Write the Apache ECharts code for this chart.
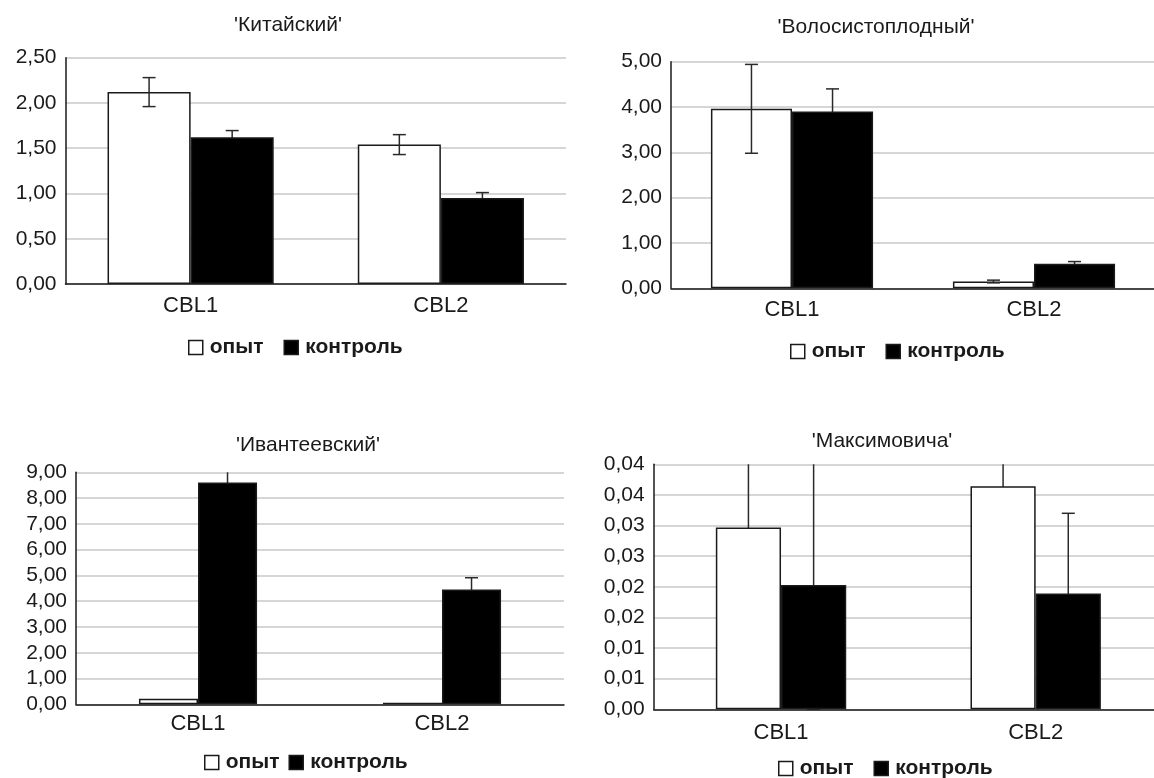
<!DOCTYPE html>
<html><head><meta charset="utf-8">
<script src="https://cdn.jsdelivr.net/npm/echarts@6/dist/echarts.min.js"></script>
<style>html,body{margin:0;padding:0;background:#fff}#c{width:1154px;height:778px}</style>
</head><body><div id="c"></div>
<script>
// ---- data ----
const categories = ['CBL1', 'CBL2'];
const seriesNames = ['опыт', 'контроль'];
const titles = ["'Китайский'", "'Волосистоплодный'", "'Ивантеевский'", "'Максимовича'"];

const kitOpyt = [2.12, 1.54];
const kitOpytErr = [0.16, 0.11];
const kitKontrol = [1.62, 0.95];
const kitKontrolErr = [0.075, 0.06];

const volOpyt = [3.96, 0.15];
const volOpytErr = [0.98, 0.03];
const volKontrol = [3.90, 0.54];
const volKontrolErr = [0.50, 0.05];

const ivaOpyt = [0.22, 0.06];
const ivaOpytErr = [0, 0];
const ivaKontrol = [8.60, 4.45];
const ivaKontrolErr = [0.60, 0.46];

const maxOpyt = [0.0297, 0.0364];
const maxOpytErr = [0.015, 0.010];
const maxKontrol = [0.0203, 0.0189];
const maxKontrolErr = [0.025, 0.0131];

const yMaxes = [2.5, 5, 9, 0.04];
const yIntervals = [0.5, 1, 1, 0.005];

// ---- layout ----
const panels = [
  {grid: {left: 65.5, top: 57.7, right: 588, bottom: 494}, gap: 0.336, title: [288, 15], legend: [188, 337, 20], xMargin: 11, errOnTop: true,
   opyt: kitOpyt, opytErr: kitOpytErr, kontrol: kitKontrol, kontrolErr: kitKontrolErr},
  {grid: {left: 671, top: 61.7, right: -1, bottom: 489.7}, gap: 0.33, title: [876, 17], legend: [790, 341, 20], xMargin: 11, errOnTop: true,
   opyt: volOpyt, opytErr: volOpytErr, kontrol: volKontrol, kontrolErr: volKontrolErr},
  {grid: {left: 76, top: 472.3, right: 590, bottom: 73.7}, gap: 0.516, title: [308, 435], legend: [204, 752, 9], xMargin: 9, errOnTop: true,
   opyt: ivaOpyt, opytErr: ivaOpytErr, kontrol: ivaKontrol, kontrolErr: ivaKontrolErr},
  {grid: {left: 653.7, top: 464.3, right: -9, bottom: 68.7}, gap: 0.488, title: [882, 431], legend: [778, 758, 20], xMargin: 13, errOnTop: false,
   opyt: maxOpyt, opytErr: maxOpytErr, kontrol: maxKontrol, kontrolErr: maxKontrolErr}
];

const FONT = 'Liberation Sans';
const fmt = v => (Math.floor(v * 100 + 0.5 + 1e-9) / 100).toFixed(2).replace('.', ',');

const grids = [], xAxes = [], yAxes = [], series = [], titleArr = [], legends = [];

function errSeries(idx, side, vals, errs, gap, z) {
  return {
    type: 'custom', xAxisIndex: idx, yAxisIndex: idx, z: z, silent: true,
    data: vals.map((v, i) => [i, v, errs[i]]),
    renderItem: (params, api) => {
      const ci = api.value(0), v = api.value(1), e = api.value(2);
      if (!e) return;
      const catW = api.size([1, 0])[0];
      const bw = catW * (1 - gap) / 2;
      const c = api.coord([ci, v]);
      const x = c[0] + (side === 0 ? -bw / 2 : bw / 2);
      const hi = v + e, lo = Math.max(v - e, 0);
      const ymax = yMaxes[idx];
      const top = api.coord([ci, Math.min(hi, ymax)])[1];
      const bot = api.coord([ci, lo])[1];
      const st = {stroke: '#2a2a2a', lineWidth: 1.5};
      const ch = [{type: 'line', shape: {x1: x, y1: top, x2: x, y2: bot}, style: st}];
      if (hi <= ymax) ch.push({type: 'line', shape: {x1: x - 6.5, y1: top, x2: x + 6.5, y2: top}, style: st});
      ch.push({type: 'line', shape: {x1: x - 6.5, y1: bot, x2: x + 6.5, y2: bot}, style: st});
      return {type: 'group', children: ch};
    }
  };
}

panels.forEach((p, i) => {
  grids.push(Object.assign({outerBoundsMode: 'none', containLabel: false}, p.grid));
  xAxes.push({
    type: 'category', gridIndex: i, data: categories,
    axisLine: {show: true, lineStyle: {color: '#1a1a1a', width: 1.5}},
    axisTick: {show: false},
    axisLabel: {color: '#1a1a1a', fontFamily: FONT, fontSize: 22, margin: p.xMargin},
    splitLine: {show: false}
  });
  yAxes.push({
    type: 'value', gridIndex: i, min: 0, max: yMaxes[i], interval: yIntervals[i],
    axisLine: {show: true, lineStyle: {color: '#1a1a1a', width: 1.5}},
    axisTick: {show: false},
    axisLabel: {color: '#1a1a1a', fontFamily: FONT, fontSize: 21, margin: 9, formatter: fmt},
    splitLine: {show: true, lineStyle: {color: '#c8c8c8', width: 1.5}}
  });
  series.push({
    type: 'bar', name: seriesNames[0], xAxisIndex: i, yAxisIndex: i, data: p.opyt, z: 2,
    barGap: '0%', barCategoryGap: (p.gap * 100) + '%',
    itemStyle: {color: '#ffffff', borderColor: '#1a1a1a', borderWidth: 1.5}, silent: true
  });
  series.push({
    type: 'bar', name: seriesNames[1], xAxisIndex: i, yAxisIndex: i, data: p.kontrol, z: 2,
    barGap: '0%', barCategoryGap: (p.gap * 100) + '%',
    itemStyle: {color: '#000000', borderColor: '#1a1a1a', borderWidth: 1.5}, silent: true
  });
  series.push(errSeries(i, 0, p.opyt, p.opytErr, p.gap, p.errOnTop ? 10 : 1));
  series.push(errSeries(i, 1, p.kontrol, p.kontrolErr, p.gap, 1));
  titleArr.push({
    text: titles[i], left: p.title[0], top: p.title[1], textAlign: 'center', padding: 0,
    textStyle: {fontFamily: FONT, fontSize: 21, fontWeight: 'normal', color: '#1a1a1a'}
  });
  legends.push({
    left: p.legend[0], top: p.legend[1], padding: 0, itemGap: p.legend[2],
    itemWidth: 14, itemHeight: 14, icon: 'rect', selectedMode: false,
    textStyle: {fontFamily: FONT, fontSize: 21, fontWeight: 'bold', color: '#1a1a1a', padding: [0, 0, 0, 2]},
    data: [
      {name: seriesNames[0], itemStyle: {color: '#ffffff', borderColor: '#1a1a1a', borderWidth: 1.5}},
      {name: seriesNames[1], itemStyle: {color: '#000000', borderColor: '#1a1a1a', borderWidth: 1.5}}
    ]
  });
});

const chart = echarts.init(document.getElementById('c'), null, {renderer: 'canvas'});
chart.setOption({
  backgroundColor: '#ffffff',
  animation: false,
  title: titleArr,
  legend: legends,
  grid: grids,
  xAxis: xAxes,
  yAxis: yAxes,
  series: series
});
</script>
</body></html>
